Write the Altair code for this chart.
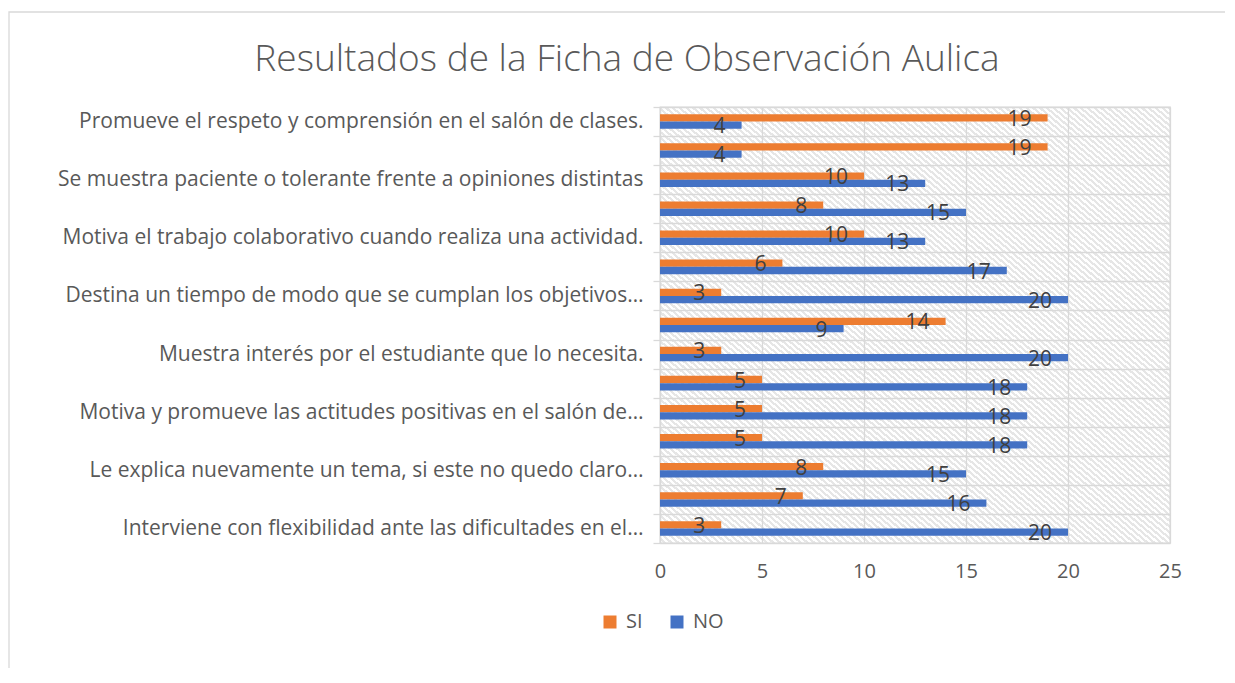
import json
import altair as alt
import pandas as pd

title_text = "Resultados de la Ficha de Observación Aulica"

# rows top -> bottom ("" = row whose label Excel skipped)
items = [
    "Promueve el respeto y comprensión en el salón de clases.",
    "",
    "Se muestra paciente o tolerante frente a opiniones distintas",
    "",
    "Motiva el trabajo colaborativo cuando realiza una actividad.",
    "",
    "Destina un tiempo de modo que se cumplan los objetivos…",
    "",
    "Muestra interés por el estudiante que lo necesita.",
    "",
    "Motiva y promueve las actitudes positivas en el salón de…",
    "",
    "Le explica nuevamente un tema, si este no quedo claro…",
    "",
    "Interviene con flexibilidad ante las dificultades en el…",
]
si_values = [19, 19, 10, 8, 10, 6, 3, 14, 3, 5, 5, 5, 8, 7, 3]
no_values = [4, 4, 13, 15, 13, 17, 20, 9, 20, 18, 18, 18, 15, 16, 20]
series = ["SI", "NO"]
colors = ["#ED7D31", "#4472C4"]
x_ticks = [0, 5, 10, 15, 20, 25]

rows = []
for i in range(len(items)):
    rows.append({"row": i, "serie": "SI", "valor": si_values[i]})
    rows.append({"row": i, "serie": "NO", "valor": no_values[i]})
df = pd.DataFrame(rows)

label_expr = "[" + ",".join(json.dumps(s, ensure_ascii=False) for s in items) + "][datum.value]"

# diagonal hatch background (style only)
n_stripes = 150
stops = []
for k in range(n_stripes):
    a = k / n_stripes
    b = (k + 0.5) / n_stripes
    c = (k + 1) / n_stripes
    stops.append(f"{{offset:{a:.5f},color:'#ffffff'}}")
    stops.append(f"{{offset:{b:.5f},color:'#ffffff'}}")
    stops.append(f"{{offset:{b:.5f},color:'#e6e6e6'}}")
    stops.append(f"{{offset:{c:.5f},color:'#e6e6e6'}}")
grad_expr = "{gradient:'linear',x1:0,y1:1,x2:1,y2:0,stops:[" + ",".join(stops) + "]}"

FONT = "Open Sans"
GRID = "#d9d9d9"

y_enc = alt.Y(
    "row:O",
    scale=alt.Scale(paddingInner=0, paddingOuter=0),
    axis=alt.Axis(
        title=None,
        labelExpr=label_expr,
        tickBand="extent",
        grid=True,
        gridColor=GRID,
        gridWidth=1.3,
        ticks=True,
        tickColor=GRID,
        tickWidth=1.3,
        tickSize=7,
        domainColor=GRID,
        domainWidth=1.3,
        labelFont=FONT,
        labelFontSize=21,
        labelColor="#595959",
        labelPadding=10,
        labelLimit=700,
    ),
)
x_enc = alt.X(
    "valor:Q",
    scale=alt.Scale(domain=[0, 25], nice=False),
    axis=alt.Axis(
        title=None,
        values=x_ticks,
        grid=True,
        gridColor=GRID,
        gridWidth=1.3,
        ticks=False,
        domain=False,
        labelFlush=False,
        labelFont=FONT,
        labelFontSize=20,
        labelColor="#595959",
        labelPadding=18,
    ),
)
yoff = alt.YOffset("serie:N", sort=series, scale=alt.Scale(paddingOuter=1, paddingInner=0))

bars = alt.Chart(df).mark_bar().encode(
    x=x_enc,
    y=y_enc,
    yOffset=yoff,
    color=alt.Color(
        "serie:N",
        sort=series,
        scale=alt.Scale(domain=series, range=colors),
        legend=alt.Legend(
            title=None,
            orient="none",
            direction="horizontal",
            legendX=-60,
            legendY=505,
            symbolType="square",
            symbolSize=169,
            symbolStrokeWidth=0,
            labelFont=FONT,
            labelFontSize=20,
            labelColor="#595959",
            labelOffset=6,
            columnPadding=24,
            padding=0,
        ),
    ),
)

texts = alt.Chart(df).mark_text(
    align="right", baseline="middle", dx=-16, dy=2, font=FONT, fontSize=21, color="#404040"
).encode(
    x="valor:Q",
    y="row:O",
    yOffset=yoff,
    text="valor:Q",
)

frame = alt.Chart(alt.Data(values=[{}])).mark_rect(
    filled=False, stroke="#d9d9d9", strokeWidth=1.3
).encode(
    x=alt.value(-651), x2=alt.value(700), y=alt.value(-95), y2=alt.value(700)
)

chart = alt.layer(frame, bars, texts).properties(
    width=510,
    height=436,
    autosize=alt.AutoSizeParams(type="none"),
    padding={"left": 652, "top": 99, "right": 55, "bottom": 125},
    view=alt.ViewBackground(fill=alt.ExprRef(expr=grad_expr), stroke=GRID, strokeWidth=1.3),
    title=alt.TitleParams(
        title_text,
        anchor="middle",
        dx=-288,
        dy=98,
        offset=30,
        font=FONT,
        fontSize=37,
        fontWeight=300,
        color="#595959",
    ),
)

chart.save("out.html", embed_options={"renderer": "svg", "actions": False})
